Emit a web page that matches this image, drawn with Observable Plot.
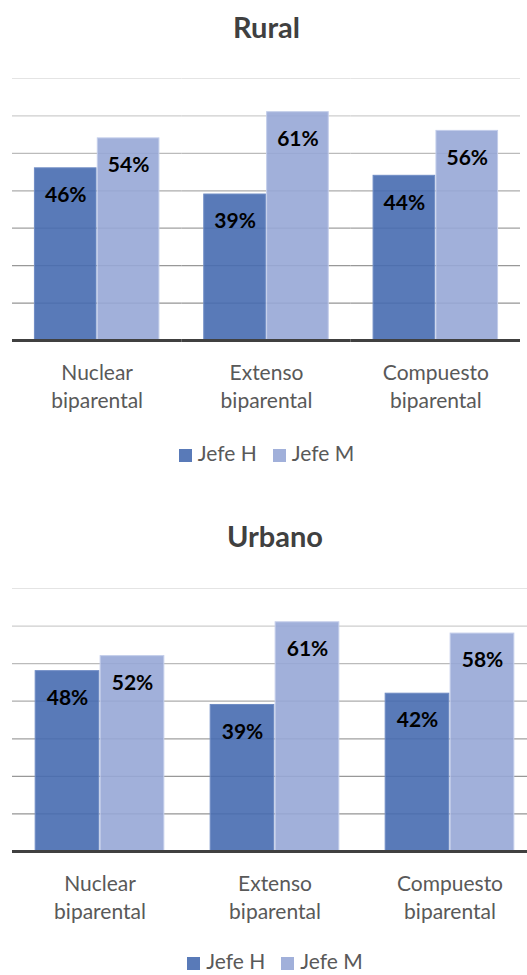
<!DOCTYPE html>
<html>
<head>
<meta charset="utf-8">
<script src="https://cdn.jsdelivr.net/npm/d3@7"></script>
<script src="https://cdn.jsdelivr.net/npm/@observablehq/plot@0.6"></script>
<style>
  html, body { margin: 0; padding: 0; background: #fff; overflow: hidden; }
  body { width: 527px; height: 975px; position: relative; font-family: Lato, "Open Sans", sans-serif; }
  .title { position: absolute; left: 0; text-align: center; font-weight: bold; font-size: 29px; color: #404040; line-height: 40px; height: 40px; }
  .chart { position: absolute; left: 0; }
  .chart svg { max-width: none !important; }
  .legend { position: absolute; left: 0; display: flex; justify-content: center; align-items: center; font-size: 21px; color: #595959; line-height: 30px; height: 30px; }
  .legend .item { display: flex; align-items: center; margin: 0 8px; }
  .legend .sw { width: 13px; height: 13px; margin-right: 6px; margin-top: 4px; }
</style>
</head>
<body>
<div id="root"></div>
<script>
// ---- data ----
const categories = ["Nuclear biparental", "Extenso biparental", "Compuesto biparental"];
const series = ["Jefe H", "Jefe M"];
const ruralH = [46, 39, 44];
const ruralM = [54, 61, 56];
const urbanoH = [48, 39, 42];
const urbanoM = [52, 61, 58];
const gridValues = [10, 20, 30, 40, 50, 60, 70];
const panelTitles = ["Rural", "Urbano"];

// ---- styles ----
const fills = {"Jefe H": "#476bb0", "Jefe M": "#97a7d6"};
const strokes = {"Jefe H": "#6f8cc4", "Jefe M": "#c3cdea"};
const gridColor = v => d3.interpolateRgb("#959595", "#e4e4e4")(Math.pow((v - 10) / 60, 1.8));

function buildTable(hVals, mVals) {
  const rows = [];
  categories.forEach((c, i) => {
    rows.push({cat: c, series: series[0], value: hVals[i]});
    rows.push({cat: c, series: series[1], value: mVals[i]});
  });
  return rows;
}

function makeChart(rows, width, plotHeight) {
  const marginTop = 28, marginBottom = 75, marginLeft = 12, marginRight = 13;
  const padInner = 0.25, padOuter = 0.125;
  const step = (width - marginLeft - marginRight) / (categories.length - padInner + 2 * padOuter);
  const ext = -step * padInner / 2; // extend per-facet rules to join across facets
  return Plot.plot({
    width,
    height: marginTop + plotHeight + marginBottom,
    marginLeft, marginRight, marginTop, marginBottom,
    style: {fontFamily: "Lato, 'Open Sans', sans-serif", background: "transparent", overflow: "visible", maxWidth: "none"},
    fx: {domain: categories, paddingInner: padInner, paddingOuter: padOuter, round: false, axis: null, label: null},
    x: {domain: series, padding: 0.02, round: false, axis: null},
    y: {domain: [0, 70], axis: null},
    marks: [
      Plot.ruleY(gridValues, {y: d => d, stroke: d => gridColor(d), strokeWidth: 1.2, insetLeft: ext, insetRight: ext}),
      Plot.barY(rows, {
        fx: "cat", x: "series", y: "value",
        fill: d => fills[d.series], fillOpacity: 0.9,
        stroke: d => strokes[d.series], strokeWidth: 1
      }),
      Plot.text(rows, {
        fx: "cat", x: "series", y: "value",
        text: d => d.value + "%",
        dy: 27, fontSize: 21, fontWeight: "bold", fill: "#000"
      }),
      Plot.ruleY([0], {stroke: "#404040", strokeWidth: 3, insetLeft: ext, insetRight: ext}),
      Plot.axisFx({
        anchor: "bottom", tickSize: 0, tickPadding: 19,
        fontSize: 21, lineHeight: 1.35, fill: "#595959",
        tickFormat: d => d.replace(" ", "\n"), label: null
      })
    ]
  });
}

function legend(width) {
  const el = document.createElement("div");
  el.className = "legend";
  el.style.width = width + "px";
  series.forEach(s => {
    const item = document.createElement("div");
    item.className = "item";
    const sw = document.createElement("span");
    sw.className = "sw";
    sw.style.background = d3.interpolateRgb(fills[s], "#fff")(0.1);
    const t = document.createElement("span");
    t.textContent = s;
    item.appendChild(sw);
    item.appendChild(t);
    el.appendChild(item);
  });
  return el;
}

const layout = [
  {title: panelTitles[0], h: ruralH, m: ruralM, width: 533, titleTop: 7, chartTop: 50, plotHeight: 262, legendTop: 438},
  {title: panelTitles[1], h: urbanoH, m: urbanoM, width: 550, titleTop: 516, chartTop: 560, plotHeight: 263, legendTop: 946}
];

const root = document.getElementById("root");
layout.forEach(p => {
  const t = document.createElement("div");
  t.className = "title";
  t.style.top = p.titleTop + "px";
  t.style.width = p.width + "px";
  t.textContent = p.title;
  root.appendChild(t);

  const c = document.createElement("div");
  c.className = "chart";
  c.style.top = p.chartTop + "px";
  c.style.width = p.width + "px";
  c.appendChild(makeChart(buildTable(p.h, p.m), p.width, p.plotHeight));
  root.appendChild(c);

  const l = legend(p.width);
  l.style.top = p.legendTop + "px";
  root.appendChild(l);
});
</script>
</body>
</html>
